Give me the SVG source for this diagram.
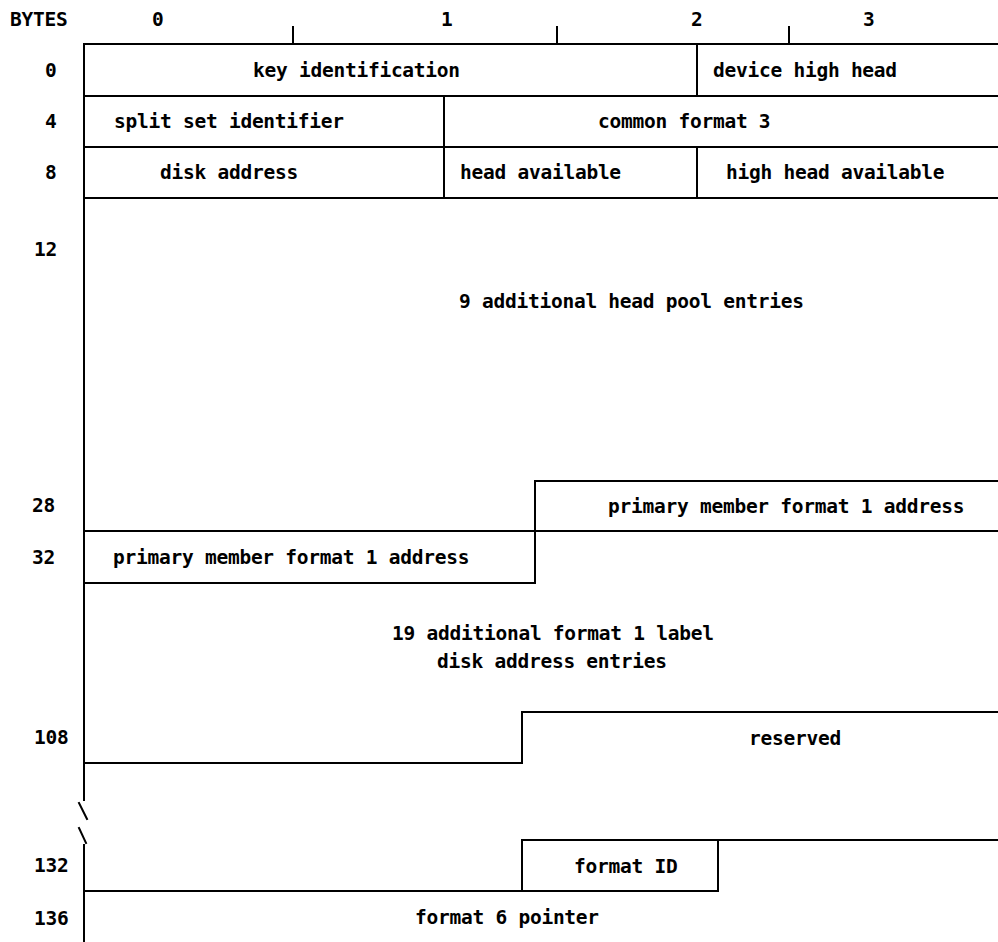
<svg xmlns="http://www.w3.org/2000/svg" width="998" height="942" viewBox="0 0 998 942">
<style>
.t{font-family:"DejaVu Sans Mono","Liberation Mono",monospace;font-size:19.5px;font-weight:bold;fill:#000;letter-spacing:-0.25px}
.l{stroke:#000;stroke-width:2;fill:none;stroke-linecap:square}
</style>
<rect width="998" height="942" fill="#fff"/>
<g id="header">
<text class="t" x="10" y="26">BYTES</text>
<text class="t" x="152" y="26">0</text>
<text class="t" x="441" y="26">1</text>
<text class="t" x="691" y="26">2</text>
<text class="t" x="863" y="26">3</text>
<path class="l" d="M293 27V44M557 27V44M789 27V44"/>
</g>
<g id="offsets">
<text class="t" x="45" y="77">0</text>
<text class="t" x="45" y="128">4</text>
<text class="t" x="45" y="179">8</text>
<text class="t" x="34" y="256">12</text>
<text class="t" x="32" y="512">28</text>
<text class="t" x="32" y="564">32</text>
<text class="t" x="34" y="744">108</text>
<text class="t" x="34" y="872">132</text>
<text class="t" x="34" y="925">136</text>
</g>
<g id="frame">
<path class="l" d="M84 44H998M84 96H998M84 147H998M84 198H998"/>
<path class="l" d="M84 44V800M84 845V942"/>
<path class="l" d="M79 803L87 819M79 828L86 843"/>
</g>
<g id="key-identification"><text class="t" x="253" y="77">key identification</text></g>
<g id="device-high-head"><path class="l" d="M697 44V96"/><text class="t" x="713" y="77">device high head</text></g>
<g id="split-set-identifier"><path class="l" d="M444 96V147"/><text class="t" x="114" y="128">split set identifier</text></g>
<g id="common-format-3"><text class="t" x="598" y="128">common format 3</text></g>
<g id="disk-address"><path class="l" d="M444 147V198"/><text class="t" x="160" y="179">disk address</text></g>
<g id="head-available"><path class="l" d="M697 147V198"/><text class="t" x="460" y="179">head available</text></g>
<g id="high-head-available"><text class="t" x="726" y="179">high head available</text></g>
<g id="head-pool"><text class="t" x="459" y="308">9 additional head pool entries</text></g>
<g id="primary-member-1"><path class="l" d="M535 583V481H998M84 531H998"/><text class="t" x="608" y="513">primary member format 1 address</text></g>
<g id="primary-member-2"><path class="l" d="M84 583H535"/><text class="t" x="113" y="564">primary member format 1 address</text></g>
<g id="format1-entries"><text class="t" x="392" y="640">19 additional format 1 label</text><text class="t" x="437" y="668">disk address entries</text></g>
<g id="reserved"><path class="l" d="M84 763H522V712H998"/><text class="t" x="749" y="745">reserved</text></g>
<g id="format-id"><path class="l" d="M84 891H718V840M522 891V840H998"/><text class="t" x="574" y="873">format ID</text></g>
<g id="format-6-pointer"><text class="t" x="415" y="924">format 6 pointer</text></g>
<g id="connectors"/>
</svg>
